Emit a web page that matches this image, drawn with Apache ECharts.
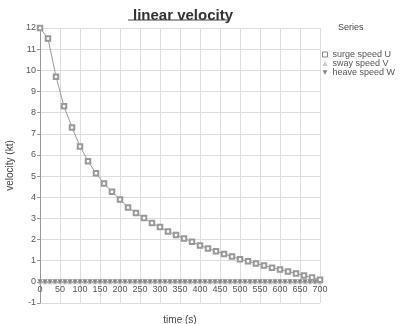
<!DOCTYPE html>
<html>
<head>
<meta charset="utf-8">
<script src="https://cdn.jsdelivr.net/npm/echarts@6/dist/echarts.min.js"></script>
<style>
  html, body { margin: 0; padding: 0; background: #fff; }
  #chart { width: 414px; height: 324px; }
</style>
</head>
<body>
<div id="chart"></div>
<script>
// time (s) for surge samples
const surgeTime = [0, 20, 40, 60, 80, 100, 120, 140, 160, 180, 200, 220, 240, 260, 280, 300, 320, 340,
  360, 380, 400, 420, 440, 460, 480, 500, 520, 540, 560, 580, 600, 620, 640, 660, 680, 700];
// surge speed U (kt)
const surgeSpeed = [12.0, 11.5, 9.7, 8.3, 7.3, 6.4, 5.7, 5.13, 4.65, 4.26, 3.89, 3.52, 3.26, 3.02, 2.78, 2.59, 2.38, 2.22,
  2.05, 1.9, 1.72, 1.58, 1.45, 1.32, 1.2, 1.07, 0.97, 0.87, 0.77, 0.67, 0.58, 0.49, 0.4, 0.3, 0.2, 0.1];
// time (s) for sway / heave samples
const lateralTime = [0, 12.5, 25, 37.5, 50, 62.5, 75, 87.5, 100, 112.5, 125, 137.5, 150, 162.5, 175, 187.5,
  200, 212.5, 225, 237.5, 250, 262.5, 275, 287.5, 300, 312.5, 325, 337.5, 350, 362.5, 375, 387.5,
  400, 412.5, 425, 437.5, 450, 462.5, 475, 487.5, 500, 512.5, 525, 537.5, 550, 562.5, 575, 587.5,
  600, 612.5, 625, 637.5, 650, 662.5, 675, 687.5, 700];
const swaySpeed = lateralTime.map(() => 0);
const heaveSpeed = lateralTime.map(() => 0);

const seriesNames = ['surge speed U', 'sway speed V', 'heave speed W'];
const yMin = -1;
const yMax = 12;

const pairs = (xs, ys) => xs.map((x, i) => [x, ys[i]]);

const chart = echarts.init(document.getElementById('chart'));
const font = 'Liberation Sans, Arial, sans-serif';

// plot box
const gridTop = 28;
const gridBottom = 21;
const plotH = 324 - gridTop - gridBottom;
// lift the x axis from the bottom edge up to the zero line
const zeroOffset = -plotH * (0 - yMin) / (yMax - yMin);

chart.setOption({
  animation: false,
  textStyle: { fontFamily: font },
  title: [
    {
      text: 'linear velocity',
      left: 178,
      top: 3,
      textAlign: 'center',
      textStyle: { fontSize: 15, fontWeight: 'bold', color: '#333', fontFamily: font }
    },
    {
      text: 'Series',
      left: 333,
      top: 18,
      textStyle: { fontSize: 9, fontWeight: 'normal', color: '#444', fontFamily: font }
    }
  ],
  graphic: [
    {
      type: 'line',
      shape: { x1: 128, y1: 20, x2: 229, y2: 20 },
      style: { stroke: '#444', lineWidth: 1 }
    }
  ],
  legend: {
    orient: 'vertical',
    left: 322,
    top: 50,
    padding: 0,
    itemGap: 0,
    itemWidth: 5,
    itemHeight: 5,
    textStyle: { fontSize: 9, lineHeight: 9, color: '#555', fontFamily: font },
    data: [
      { name: seriesNames[0], icon: 'rect', itemStyle: { borderColor: '#888', color: '#fff', borderWidth: 1 } },
      { name: seriesNames[1], icon: 'triangle', itemStyle: { color: '#ccc' } },
      { name: seriesNames[2], icon: 'path://M0,0L10,0L5,9Z', itemStyle: { color: '#888' } }
    ]
  },
  grid: { left: 40, right: 94, top: gridTop, bottom: gridBottom, outerBoundsMode: 'none', containLabel: false },
  xAxis: {
    type: 'value',
    min: 0,
    max: 700,
    interval: 50,
    offset: zeroOffset,
    name: 'time (s)',
    nameLocation: 'middle',
    nameGap: 33,
    nameTextStyle: { fontSize: 10, color: '#444' },
    axisLine: { onZero: false, lineStyle: { color: '#999' } },
    axisTick: { show: false },
    axisLabel: { fontSize: 9, color: '#555', margin: 3 },
    splitLine: { lineStyle: { color: '#ddd' } }
  },
  yAxis: {
    type: 'value',
    min: yMin,
    max: yMax,
    interval: 1,
    name: 'velocity (kt)',
    nameLocation: 'middle',
    nameRotate: 90,
    nameGap: 22,
    nameTextStyle: { fontSize: 10, color: '#444' },
    axisLine: { show: true, onZero: false, lineStyle: { color: '#999' } },
    axisTick: { show: true, length: 3, lineStyle: { color: '#999' } },
    axisLabel: { fontSize: 9, color: '#555', margin: 4 },
    splitLine: { lineStyle: { color: '#ddd' } }
  },
  series: [
    {
      name: seriesNames[1],
      type: 'line',
      data: pairs(lateralTime, swaySpeed),
      symbol: 'triangle',
      symbolSize: 5,
      itemStyle: { color: '#ccc' },
      lineStyle: { color: '#bbb', width: 1 },
      z: 2
    },
    {
      name: seriesNames[2],
      type: 'line',
      data: pairs(lateralTime, heaveSpeed),
      symbol: 'triangle',
      symbolRotate: 180,
      symbolSize: 5,
      itemStyle: { color: '#888' },
      lineStyle: { color: '#aaa', width: 1 },
      z: 3
    },
    {
      name: seriesNames[0],
      type: 'line',
      data: pairs(surgeTime, surgeSpeed),
      symbol: 'emptyRect',
      symbolSize: 4.5,
      itemStyle: { color: '#999', borderWidth: 1 },
      lineStyle: { color: '#999', width: 1 },
      z: 4
    }
  ]
});

window.addEventListener('resize', () => {
  chart.resize();
});
</script>
</body>
</html>
